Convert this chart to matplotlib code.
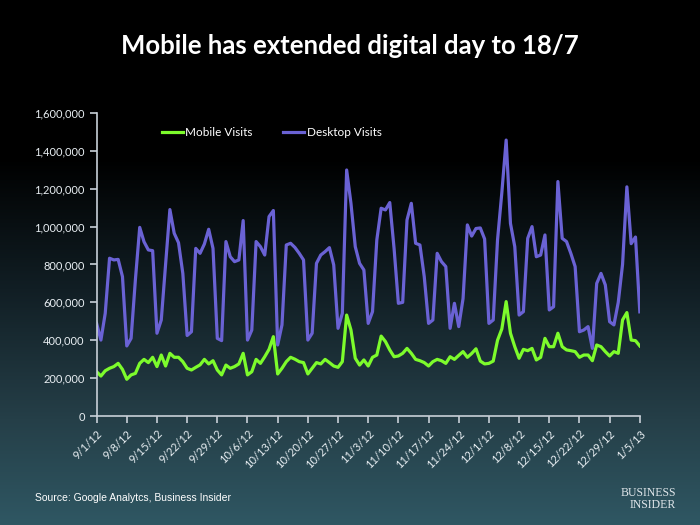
import numpy as np
import matplotlib
matplotlib.use("Agg")
import matplotlib.pyplot as plt
from matplotlib.colors import LinearSegmentedColormap
from matplotlib.ticker import FuncFormatter

# daily visits, 9/1/12 .. 1/5/13 (thousands)
desktop = [489, 401, 542, 833, 824, 827, 736,
           370, 410, 720, 996, 920, 877, 873,
           437, 507, 800, 1090, 965, 915, 753,
           425, 445, 885, 859, 908, 986, 885,
           410, 398, 921, 841, 815, 824, 1032,
           401, 454, 921, 894, 850, 1053, 1085,
           375, 481, 903, 912, 890, 859, 824,
           401, 437, 806, 850, 868, 889, 798,
           463, 542, 1299, 1123, 894, 806, 771,
           489, 551, 930, 1097, 1088, 1127, 885,
           595, 600, 1035, 1123, 912, 903, 736,
           489, 507, 859, 815, 789, 463, 595,
           472, 620, 1009, 950, 990, 993, 935,
           489, 507, 930, 1180, 1457, 1017, 894,
           533, 551, 938, 1000, 841, 850, 956,
           560, 577, 1238, 938, 921, 859, 789,
           445, 454, 472, 357, 700, 753, 692,
           498, 481, 600, 800, 1210, 910, 945,
           550]
mobile = [234, 211, 239, 252, 261, 278, 246,
          194, 217, 225, 278, 299, 282, 310,
          261, 322, 264, 331, 310, 310, 287,
          252, 243, 257, 270, 299, 275, 292,
          243, 217, 269, 252, 261, 275, 331,
          217, 234, 299, 278, 313, 352, 419,
          222, 252, 287, 310, 300, 287, 282,
          222, 252, 282, 275, 299, 282, 264,
          257, 287, 533, 454, 305, 269, 296,
          264, 310, 322, 422, 393, 349, 313,
          317, 331, 357, 331, 299, 292, 282,
          264, 287, 299, 292, 278, 313, 299,
          320, 340, 310, 330, 355, 290, 275,
          278, 290, 400, 460, 604, 437, 366,
          305, 352, 345, 357, 296, 310, 410,
          366, 366, 437, 366, 349, 345, 340,
          310, 322, 322, 292, 375, 366, 340,
          317, 340, 331, 507, 546, 401, 398,
          370]
week_labels = ["9/1/12", "9/8/12", "9/15/12", "9/22/12", "9/29/12", "10/6/12",
               "10/13/12", "10/20/12", "10/27/12", "11/3/12", "11/10/12",
               "11/17/12", "11/24/12", "12/1/12", "12/8/12", "12/15/12",
               "12/22/12", "12/29/12", "1/5/13"]

desktop = np.array(desktop) * 1000
mobile = np.array(mobile) * 1000
days = np.arange(len(desktop))

fig = plt.figure(figsize=(7, 5.25), dpi=100)

# background gradient: black on top, dark teal at the bottom
bg = fig.add_axes([0, 0, 1, 1], zorder=-10)
cmap = LinearSegmentedColormap.from_list(
    "bg", [(0, "#000000"), (0.3, "#000000"), (0.55, "#111e24"),
           (0.8, "#253f48"), (1.0, "#2f5763")])
bg.imshow(np.linspace(0, 1, 256).reshape(-1, 1), aspect="auto", cmap=cmap,
          extent=[0, 1, 0, 1], origin="upper")
bg.axis("off")

ax = fig.add_axes([0.138, 0.2076, 0.776, 0.5772])
ax.set_facecolor("none")

ax.plot(days, mobile, color="#7dfb2c", lw=2.3, label="Mobile Visits", solid_joinstyle="round")
ax.plot(days, desktop, color="#6a62d4", lw=2.3, label="Desktop Visits", solid_joinstyle="round")

ax.set_xlim(0, 126)
ax.set_ylim(0, 1600000)
ax.set_yticks(np.arange(0, 1600001, 200000))
ax.yaxis.set_major_formatter(FuncFormatter(lambda v, p: f"{int(v):,}"))
ax.set_xticks(days[::7])
ax.set_xticklabels(week_labels, rotation=45, ha="right", rotation_mode="anchor")

for s in ["top", "right"]:
    ax.spines[s].set_visible(False)
for s in ["left", "bottom"]:
    ax.spines[s].set_color("#c8d0d8")
    ax.spines[s].set_linewidth(1.2)
ax.tick_params(colors="#c8d0d8", labelcolor="#e8eef2", labelsize=8, length=5, width=1.2)
for t in ax.get_xticklabels() + ax.get_yticklabels():
    t.set_family("Lato")

leg = ax.legend(loc="center left", bbox_to_anchor=(0.1, 0.934), ncol=2, frameon=False,
                handlelength=1.8, handletextpad=0.2, columnspacing=2.6,
                prop={"family": "Lato", "size": 8.5})
for t in leg.get_texts():
    t.set_color("white")

fig.text(0.5, 0.913, "Mobile has extended digital day to 18/7", ha="center", va="center",
         color="white", fontsize=18.5, fontweight="bold", family="Lato")
fig.text(0.05, 0.051, "Source: Google Analytcs, Business Insider", ha="left", va="center",
         color="white", fontsize=7.5, family="Liberation Sans")
fig.text(0.966, 0.05, "BUSINESS\nINSIDER", ha="right", va="center", color="#e0e6ea",
         fontsize=8.5, family="Liberation Serif", linespacing=1.0)

fig.savefig("out.png", dpi=100)
